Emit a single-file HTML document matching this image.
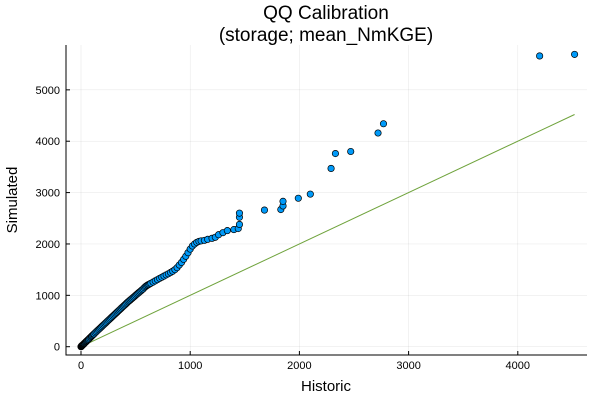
<!DOCTYPE html>
<html><head><meta charset="utf-8"><style>
body{margin:0;background:#fff;font-family:"Liberation Sans",sans-serif}
</style></head><body>
<svg id="c" width="600" height="400" xmlns="http://www.w3.org/2000/svg"></svg>
<script>
const xTicks=[0,1000,2000,3000,4000];
const yTicks=[0,1000,2000,3000,4000,5000];
const historic=[0,2,4,6,8,10,12,15,18,20,24,28,30,35,40,45,50,55,60,66,72,80,88,95,100,108,115,120,130,140,150,160,170,180,190,200,210,220,230,240,250,260,270,280,290,300,310,320,330,340,350,360,370,380,390,400,410,420,430,440,450,460,470,480,490,500,510,520,530,540,550,560,570,580,590,600,610,620,630,640,660,680,700,720,740,760,780,800,820,840,860,880,900,920,940,960,980,1000,1020,1040,1060,1080,1100,1130,1160,1200,1230,1260,1300,1340,1400,1440,1451,1451,1451,1680,1830,1850,1850,1990,2100,2290,2330,2470,2720,2770,4200,4520];
const simulated=[0,5,10,14,18,22,26,32,38,42,50,58,64,74,84,95,105,115,126,138,150,168,184,198,210,226,240,250,272,292,312,332,352,372,392,412,432,452,472,492,512,532,552,572,592,612,632,652,672,692,712,732,752,772,792,812,832,852,872,890,908,926,944,962,980,1000,1018,1036,1054,1072,1090,1108,1126,1150,1170,1185,1200,1210,1222,1235,1258,1282,1305,1330,1352,1375,1398,1420,1445,1470,1500,1540,1590,1640,1700,1760,1830,1900,1960,2000,2030,2050,2060,2070,2090,2110,2130,2180,2220,2260,2280,2300,2380,2520,2600,2660,2670,2740,2830,2890,2970,3470,3760,3800,4160,4340,5660,5690];
const refLine=[0,4520];
const L=66,R=587,T=45,B=355;
const xs=v=>81+v*0.1092, ys=v=>346.7-v*0.05137;
const svg=document.getElementById('c');const NS='http://www.w3.org/2000/svg';
function el(t,a,p){const e=document.createElementNS(NS,t);for(const k in a)e.setAttribute(k,a[k]);(p||svg).appendChild(e);return e;}
xTicks.forEach(v=>{const g=el('line',{x1:xs(v),x2:xs(v),y1:T,y2:B,stroke:'#000','stroke-opacity':0.1,'stroke-width':0.5});

const t=el('text',{x:xs(v),y:B+14,'font-size':11,'text-anchor':'middle',fill:'#000'});t.textContent=v;

el('line',{x1:xs(v),x2:xs(v),y1:B,y2:B-4,stroke:'#000'});});
yTicks.forEach(v=>{const g=el('line',{x1:L,x2:R,y1:ys(v),y2:ys(v),stroke:'#000','stroke-opacity':0.1,'stroke-width':0.5});

const t=el('text',{x:L-6,y:ys(v)+4,'font-size':11,'text-anchor':'end',fill:'#000'});t.textContent=v;

el('line',{x1:L,x2:L+4,y1:ys(v),y2:ys(v),stroke:'#000'});});
const ax=el('path',{d:`M${L},${T}V${B}H${R}`,fill:'none',stroke:'#000','stroke-width':1});

const ln=el('line',{x1:xs(refLine[0]),y1:ys(refLine[0]),x2:xs(refLine[1]),y2:ys(refLine[1]),stroke:'#6fa33c','stroke-width':1});

historic.forEach((h,i)=>{const c=el('circle',{cx:xs(h),cy:ys(simulated[i]),r:3.2,fill:'#009af9',stroke:'#000','stroke-width':0.7});
});
function txt(s,a,n){const t=el('text',a);t.textContent=s;return t;}
txt('QQ Calibration',{x:326,y:19,'font-size':19,'text-anchor':'middle'},'chart-title');
txt('(storage; mean_NmKGE)',{x:326,y:41,'font-size':19,'text-anchor':'middle'},'chart-subtitle');
txt('Historic',{x:326,y:391,'font-size':15,'text-anchor':'middle'},'x-axis-title');
txt('Simulated',{x:17,y:200,'font-size':15,'text-anchor':'middle',transform:'rotate(-90 17 200)'},'y-axis-title');
</script>
</body></html>
